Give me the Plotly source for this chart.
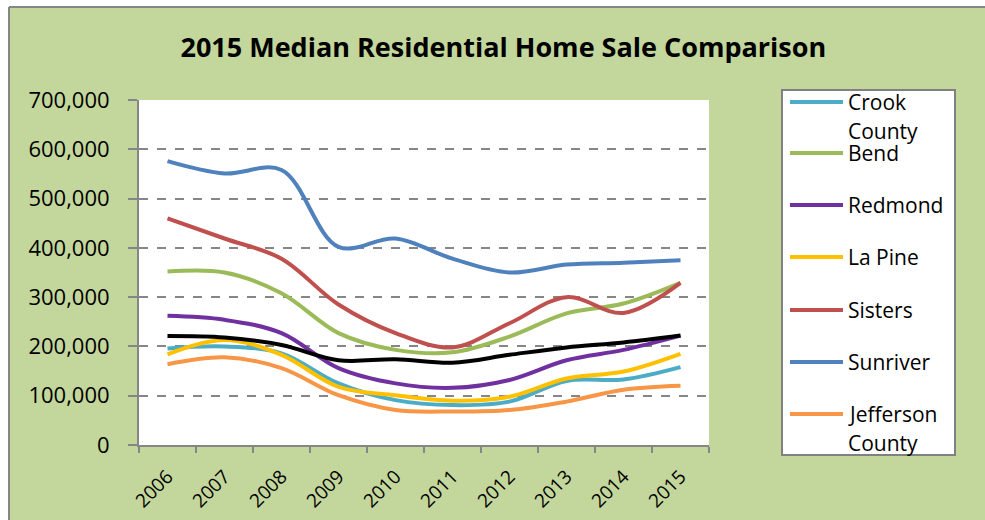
import plotly.graph_objects as go

years = ["2006", "2007", "2008", "2009", "2010", "2011", "2012", "2013", "2014", "2015"]

crook_county = [196000, 200000, 186000, 125000, 91000, 81000, 88000, 130000, 133000, 158000]
bend = [352000, 350000, 308000, 227000, 193000, 188000, 220000, 267000, 287000, 329000]
redmond = [262000, 254000, 227000, 156000, 125000, 116000, 132000, 172000, 193000, 222000]
la_pine = [184000, 213000, 183000, 118000, 101000, 90000, 98000, 135000, 149000, 185000]
sisters = [460000, 419000, 378000, 285000, 227000, 198000, 247000, 300000, 268000, 329000]
sunriver = [576000, 551000, 558000, 402000, 419000, 378000, 350000, 366000, 370000, 375000]
jefferson_county = [164000, 178000, 156000, 101000, 71000, 68000, 71000, 88000, 112000, 120000]
average = [221000, 218000, 203000, 172000, 174000, 167000, 183000, 198000, 208000, 222000]

series_names = ["Crook County", "Bend", "Redmond", "La Pine", "Sisters", "Sunriver", "Jefferson County"]
series_values = [crook_county, bend, redmond, la_pine, sisters, sunriver, jefferson_county]
series_colors = ["#4BACC6", "#9BBB59", "#7030A0", "#FFC000", "#C0504D", "#4F81BD", "#F79646"]

y_ticks = [0, 100000, 200000, 300000, 400000, 500000, 600000, 700000]

W, H = 985, 520
ML, MR, MT, MB = 139, 276, 100, 75
PW, PH = W - ML - MR, H - MT - MB
GREEN = "#C3D69B"
GRAY = "#868686"
FONT = "Open Sans"


def px(xpix):
    return (xpix - ML) / PW


def py(ypix):
    return (H - MB - ypix) / PH


fig = go.Figure()
for name, vals, col in zip(series_names, series_values, series_colors):
    fig.add_trace(go.Scatter(x=years, y=vals, name=name, mode="lines",
                             line=dict(color=col, width=4, shape="spline", smoothing=1),
                             showlegend=False))
fig.add_trace(go.Scatter(x=years, y=average, name="Average", mode="lines",
                         line=dict(color="#000000", width=4, shape="spline", smoothing=1),
                         showlegend=False))

shapes = [
    # white outer strips and gray chart border
    dict(type="rect", xref="paper", yref="paper", x0=px(-5), x1=px(9), y0=py(530), y1=py(-5),
         fillcolor="white", line=dict(width=0), layer="below"),
    dict(type="rect", xref="paper", yref="paper", x0=px(-5), x1=px(995), y0=py(7), y1=py(-5),
         fillcolor="white", line=dict(width=0), layer="below"),
    dict(type="line", xref="paper", yref="paper", x0=px(9), x1=px(9), y0=py(7), y1=py(530),
         line=dict(color=GRAY, width=2)),
    dict(type="line", xref="paper", yref="paper", x0=px(9), x1=px(995), y0=py(7), y1=py(7),
         line=dict(color=GRAY, width=2)),
    # legend box
    dict(type="rect", xref="paper", yref="paper", x0=px(782), x1=px(955), y0=py(455), y1=py(90),
         fillcolor="white", line=dict(color="#808080", width=2)),
]

annotations = []
legend_y = [102, 153, 205, 257, 310, 362, 414]
for name, col, ly in zip(series_names, series_colors, legend_y):
    shapes.append(dict(type="line", xref="paper", yref="paper", x0=px(790), x1=px(843),
                       y0=py(ly), y1=py(ly), line=dict(color=col, width=4)))
    parts = name.split(" ") if name.endswith("County") else [name]
    for i, part in enumerate(parts):
        annotations.append(dict(xref="paper", yref="paper", x=px(846), y=py(ly + 29 * i),
                                xanchor="left", yanchor="middle", text=part, showarrow=False,
                                font=dict(family=FONT, size=21, color="#000000")))

fig.update_layout(
    width=W, height=H,
    margin=dict(l=ML, r=MR, t=MT, b=MB),
    paper_bgcolor=GREEN,
    plot_bgcolor="white",
    showlegend=False,
    title=dict(text="<b>2015 Median Residential Home Sale Comparison</b>",
               xref="container", yref="container", x=0.511, y=1 - 48 / H,
               xanchor="center", yanchor="middle",
               font=dict(family=FONT, size=27, color="#000000")),
    shapes=shapes,
    annotations=annotations,
    xaxis=dict(type="category", range=[-0.5, 9.5], tickangle=-45, ticks="outside",
               tickson="boundaries", ticklen=6, tickcolor=GRAY, tickwidth=2,
               showline=True, linecolor=GRAY, linewidth=2, showgrid=False,
               ticklabelstandoff=11, automargin=False,
               tickfont=dict(family=FONT, size=19, color="#000000"), fixedrange=True),
    yaxis=dict(range=[0, 700000], tickvals=y_ticks, tickformat=",d", ticks="outside",
               ticklen=9, tickcolor=GRAY, tickwidth=2, showline=True, linecolor=GRAY,
               linewidth=2, showgrid=True, gridcolor=GRAY, gridwidth=2, griddash="dash",
               zeroline=False, ticklabelstandoff=14, automargin=False,
               tickfont=dict(family=FONT, size=22, color="#000000"),
               fixedrange=True),
)

fig.write_html("out.html", config={"displayModeBar": False},
               post_script="document.body.style.margin='0';")
